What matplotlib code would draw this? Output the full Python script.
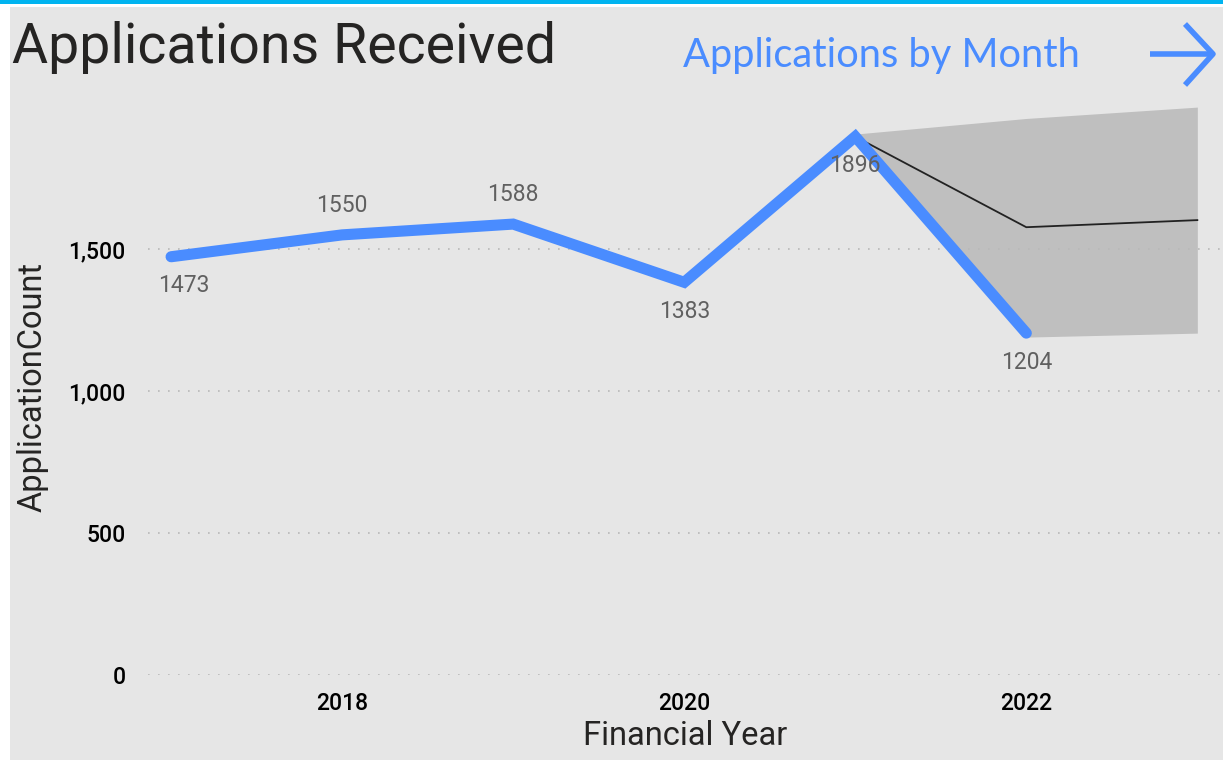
import matplotlib
matplotlib.use("Agg")
import matplotlib.pyplot as plt
from matplotlib.patches import Rectangle
from matplotlib.lines import Line2D

# data
years = [2017, 2018, 2019, 2020, 2021, 2022]
counts = [1473, 1550, 1588, 1383, 1896, 1204]
label_pos = ["below", "above", "above", "below", "below", "below"]

fc_years = [2021, 2022, 2023]
fc_mid = [1896, 1577, 1602]
fc_low = [1896, 1190, 1204]
fc_high = [1905, 1960, 2000]

yticks = [0, 500, 1000, 1500]
xticks = [2018, 2020, 2022]

blue = "#4a8cff"
bg = "#e6e6e6"
font = "Roboto"

fig = plt.figure(figsize=(12.23, 7.6), dpi=100, facecolor="white")
# card background and top accent
fig.patches.append(Rectangle((10 / 1223, 0), 1, 753 / 760, transform=fig.transFigure,
                             facecolor=bg, edgecolor="none", zorder=-2))
fig.patches.append(Rectangle((0, 756 / 760), 1, 4 / 760, transform=fig.transFigure,
                             facecolor="#00b4f0", edgecolor="none", zorder=-1))

ax = fig.add_axes([148 / 1223, 85 / 760, 1075 / 1223, 575 / 760])
ax.set_facecolor(bg)
for s in ax.spines.values():
    s.set_visible(False)

ax.fill_between(fc_years, fc_low, fc_high, color="#bfbfbf", linewidth=0, zorder=1)
ax.plot(fc_years, fc_mid, color="#222222", linewidth=1.3, zorder=2)
ax.plot(years, counts, color=blue, linewidth=8, solid_capstyle="round",
        solid_joinstyle="miter", zorder=3, clip_on=False)

for i, (x, y, p) in enumerate(zip(years, counts, label_pos)):
    off = 21 if p == "above" else -21
    dx = 9 if i == 0 else 0
    ax.annotate(str(y), (x, y), xytext=(dx, off), textcoords="offset points",
                ha="center", va="center", fontsize=16.5, color="#606060",
                family=font, zorder=4)

ax.set_xlim(2016.865, 2023.15)
ax.set_ylim(0, 2025)
ax.set_yticks(yticks)
ax.set_yticklabels([f"{v:,}" for v in yticks])
ax.set_xticks(xticks)
ax.tick_params(length=0, labelsize=16.5, pad=16)
ax.tick_params(axis="x", pad=12)
for t in ax.get_xticklabels() + ax.get_yticklabels():
    t.set_family(font)
    t.set_fontweight("medium")
ax.grid(axis="y", linestyle=(0, (1, 5)), color="#b8b8b8", linewidth=1.2)
ax.grid(axis="x", visible=False)

ax.set_xlabel("Financial Year", fontsize=23.5, family=font, color="#252423", labelpad=4)
ax.set_ylabel("ApplicationCount", fontsize=23.5, family=font, color="#252423", labelpad=14)

fig.text(12 / 1223, 1 - 48 / 760, "Applications Received", fontsize=40, family=font,
         color="#252423", va="center", ha="left")
fig.text(683 / 1223, 1 - 56 / 760, "Applications by Month", fontsize=28.7, family="Lato",
         color=blue, va="center", ha="left")

# arrow icon
W, H = 1223, 760
def fl(xs, ys):
    fig.lines.append(Line2D([x / W for x in xs], [1 - y / H for y in ys],
                            transform=fig.transFigure, color=blue, linewidth=4,
                            solid_capstyle="butt"))
fl([1150, 1212], [54, 54])
fl([1185, 1213, 1185], [24, 54, 85])

fig.savefig("out.png", dpi=100, facecolor=fig.get_facecolor())
